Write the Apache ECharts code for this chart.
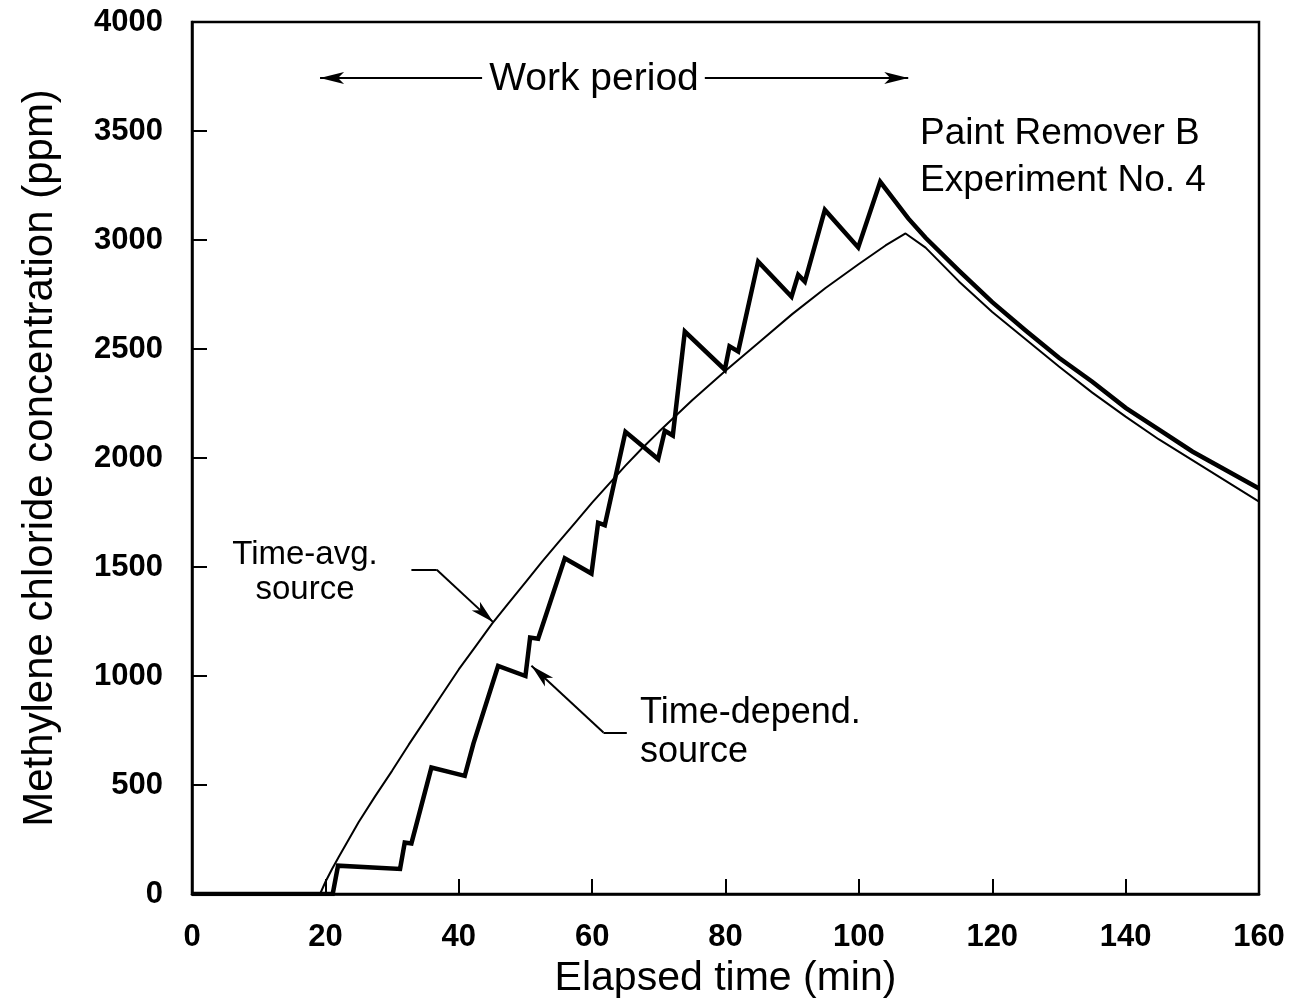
<!DOCTYPE html>
<html>
<head>
<meta charset="utf-8">
<script src="https://cdn.jsdelivr.net/npm/echarts@6/dist/echarts.min.js"></script>
<style>
  html, body { margin: 0; padding: 0; background: #fff; }
  #chart { width: 1290px; height: 1000px; }
</style>
</head>
<body>
<div id="chart"></div>
<script>
// elapsed time (min) / concentration (ppm)
var timeDependent = [
  [0, 0], [21.1, 0], [21.9, 130], [31.2, 115], [31.9, 236], [32.9, 232],
  [35.9, 580], [40.9, 542], [42.2, 690], [45.9, 1046], [50.0, 1000],
  [50.7, 1176], [51.9, 1171], [55.9, 1540], [59.9, 1470], [60.9, 1703],
  [61.9, 1692], [65.0, 2120], [69.9, 1995], [70.9, 2125], [72.1, 2103],
  [73.9, 2580], [79.9, 2405], [80.6, 2512], [81.9, 2489], [84.9, 2901],
  [89.9, 2740], [90.9, 2840], [91.9, 2809], [94.9, 3138], [99.9, 2966],
  [103.2, 3267], [107.4, 3099], [110, 3010], [115, 2860], [120, 2715],
  [125, 2585], [130, 2460], [135, 2350], [140, 2230], [145, 2130],
  [150, 2030], [155, 1945], [160, 1860]
];
var timeAveraged = [
  [0, 0], [19.2, 0], [20, 55], [21, 115], [22, 170], [23.5, 250], [25, 330],
  [27.5, 450], [30, 565], [32.5, 685], [35, 800], [37.5, 915], [40, 1030],
  [42.5, 1135], [45, 1240], [47.5, 1335], [50, 1430], [52.5, 1525],
  [55, 1615], [57.5, 1705], [60, 1795], [62.5, 1880], [65, 1965],
  [67.5, 2045], [70, 2120], [75, 2265], [80, 2400], [85, 2530], [90, 2660],
  [95, 2780], [100, 2890], [104, 2975], [107, 3030], [110, 2965],
  [115, 2810], [120, 2670], [125, 2545], [130, 2420], [135, 2300],
  [140, 2190], [145, 2085], [150, 1990], [155, 1895], [160, 1800]
];
var xTicks = [0, 160, 20];
var yTicks = [0, 4000, 500];

var FONT = '"Liberation Sans", Arial, Helvetica, sans-serif';

var chart = echarts.init(document.getElementById('chart'));

function seg(a, b, symA, symB) {
  return [
    { coord: a, symbol: symA, symbolSize: [9, 24] },
    { coord: b, symbol: symB, symbolSize: [9, 24] }
  ];
}

var option = {
  animation: false,
  backgroundColor: '#fff',
  grid: {
    left: 192, right: 31, top: 22, bottom: 106,
    outerBoundsMode: 'none',
    show: true, borderColor: '#000', borderWidth: 2.5
  },
  xAxis: {
    type: 'value',
    min: xTicks[0], max: xTicks[1], interval: xTicks[2],
    name: 'Elapsed time (min)',
    nameLocation: 'middle',
    nameGap: 56,
    nameTextStyle: { fontFamily: FONT, fontSize: 41, color: '#000' },
    axisLine: { show: true, lineStyle: { color: '#000', width: 2.5 } },
    axisTick: { show: true, inside: true, length: 15, lineStyle: { color: '#000', width: 2 } },
    axisLabel: { fontFamily: FONT, fontSize: 31, fontWeight: 'bold', color: '#000', margin: 28,
      formatter: function (v) { return String(v); } },
    splitLine: { show: false }
  },
  yAxis: {
    type: 'value',
    min: yTicks[0], max: yTicks[1], interval: yTicks[2],
    name: 'Methylene chloride concentration (ppm)',
    nameLocation: 'middle',
    nameGap: 131,
    nameTextStyle: { fontFamily: FONT, fontSize: 42, color: '#000' },
    axisLine: { show: true, lineStyle: { color: '#000', width: 2.5 } },
    axisTick: { show: true, inside: true, length: 15, lineStyle: { color: '#000', width: 2 } },
    axisLabel: { fontFamily: FONT, fontSize: 31, fontWeight: 'bold', color: '#000', margin: 29,
      formatter: function (v) { return String(v); } },
    splitLine: { show: false }
  },
  series: [
    {
      name: 'Time-avg. source',
      type: 'line',
      data: timeAveraged,
      showSymbol: false,
      lineStyle: { color: '#000', width: 2 },
      markLine: {
        silent: true,
        label: { show: false },
        lineStyle: { color: '#000', width: 2, type: 'solid' },
        data: [
          // work period arrow
          seg([19.2, 3743], [43.5, 3743], 'arrow', 'none'),
          seg([76.9, 3743], [107.4, 3743], 'none', 'arrow'),
          // time-avg. leader
          seg([32.9, 1487], [36.7, 1487], 'none', 'none'),
          seg([36.7, 1487], [45.2, 1246], 'none', 'arrow'),
          // time-depend. leader
          seg([65.2, 741], [61.7, 741], 'none', 'none'),
          seg([61.7, 741], [50.9, 1047], 'none', 'arrow')
        ]
      }
    },
    {
      name: 'Time-depend. source',
      type: 'line',
      data: timeDependent,
      showSymbol: false,
      lineStyle: { color: '#000', width: 4.5, join: 'miter' }
    }
  ],
  graphic: [
    { type: 'text', style: { text: 'Work period', x: 594, y: 79, align: 'center', verticalAlign: 'middle', font: '39px ' + FONT, fill: '#000' } },
    { type: 'text', style: { text: 'Paint Remover B', x: 920, y: 134, align: 'left', verticalAlign: 'middle', font: '37px ' + FONT, fill: '#000' } },
    { type: 'text', style: { text: 'Experiment No. 4', x: 920, y: 181, align: 'left', verticalAlign: 'middle', font: '37px ' + FONT, fill: '#000' } },
    { type: 'text', style: { text: 'Time-avg.', x: 305, y: 555, align: 'center', verticalAlign: 'middle', font: '33px ' + FONT, fill: '#000' } },
    { type: 'text', style: { text: 'source', x: 305, y: 590, align: 'center', verticalAlign: 'middle', font: '33px ' + FONT, fill: '#000' } },
    { type: 'text', style: { text: 'Time-depend.', x: 640, y: 713, align: 'left', verticalAlign: 'middle', font: '36px ' + FONT, fill: '#000' } },
    { type: 'text', style: { text: 'source', x: 640, y: 752, align: 'left', verticalAlign: 'middle', font: '36px ' + FONT, fill: '#000' } }
  ]
};

chart.setOption(option);
</script>
</body>
</html>
